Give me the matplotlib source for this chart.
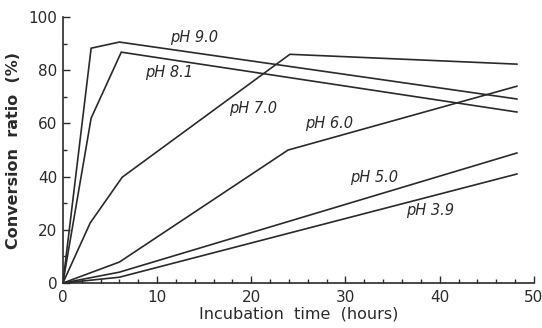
import matplotlib.pyplot as plt
from matplotlib.ticker import MultipleLocator

# 各pH下的转化率曲线 (时间 h, 转化率 %)
t_90 = [0, 3.0, 6.0, 48.2]
y_90 = [0, 88.3, 90.6, 69.2]
t_81 = [0, 3.0, 6.2, 48.2]
y_81 = [0, 62.0, 86.8, 64.3]
t_70 = [0, 2.9, 6.3, 24.1, 48.2]
y_70 = [0, 22.6, 39.8, 86.0, 82.3]
t_60 = [0, 6.0, 23.9, 48.2]
y_60 = [0, 7.9, 50.0, 74.0]
t_50 = [0, 6.0, 48.2]
y_50 = [0, 4.1, 48.9]
t_39 = [0, 6.0, 48.2]
y_39 = [0, 2.2, 41.0]

labels = ["pH 9.0", "pH 8.1", "pH 7.0", "pH 6.0", "pH 5.0", "pH 3.9"]
label_x = [13.9, 11.3, 20.2, 28.3, 33.0, 39.0]
label_y = [92.5, 79.3, 65.8, 59.8, 39.8, 27.4]

fig = plt.figure(figsize=(5.42, 3.28), dpi=100)
ax = fig.add_axes([0.116, 0.137, 0.869, 0.811])

c = "#2a2a2a"
for t, y in [(t_90, y_90), (t_81, y_81), (t_70, y_70),
             (t_60, y_60), (t_50, y_50), (t_39, y_39)]:
    ax.plot(t, y, color=c, lw=1.2, solid_joinstyle="miter")

for s, x, y in zip(labels, label_x, label_y):
    ax.text(x, y, s, ha="center", va="center", fontsize=10.5,
            style="italic", color=c)

ax.set_xlim(0, 50)
ax.set_ylim(0, 100)
ax.spines["top"].set_visible(False)
ax.spines["right"].set_visible(False)
ax.spines["left"].set_color(c)
ax.spines["bottom"].set_color(c)
ax.spines["left"].set_linewidth(1.2)
ax.spines["bottom"].set_linewidth(1.2)

ax.xaxis.set_major_locator(MultipleLocator(10))
ax.xaxis.set_minor_locator(MultipleLocator(2))
ax.yaxis.set_major_locator(MultipleLocator(20))
ax.yaxis.set_minor_locator(MultipleLocator(10))
ax.tick_params(which="major", direction="in", length=5, width=1, colors=c,
               labelsize=11)
ax.tick_params(which="minor", direction="in", length=3, width=1, colors=c)
ax.tick_params(axis="x", pad=5)
ax.tick_params(axis="y", pad=4)

ax.set_xlabel("Incubation  time  (hours)", fontsize=11.5, color=c, labelpad=1)
ax.set_ylabel("Conversion  ratio  (%)", fontsize=11.5, color=c, fontweight="bold",
              labelpad=5)

fig.savefig("out.png", dpi=100)
